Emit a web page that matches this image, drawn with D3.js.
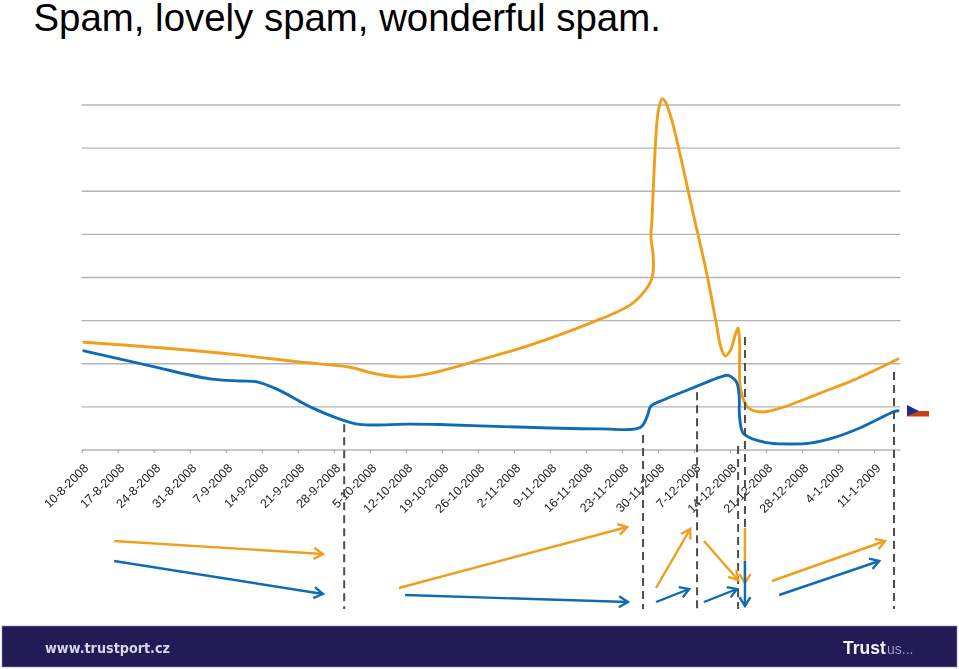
<!DOCTYPE html>
<html><head><meta charset="utf-8">
<script src="https://cdn.jsdelivr.net/npm/d3@7/dist/d3.min.js"></script>
<style>html,body{margin:0;padding:0;background:#fff}svg{display:block}</style>
</head><body><div id="chart"></div>
<script>
// Weeks since 10-8-2008 on x; unlabelled value units on y
const tickLabels = ["10-8-2008","17-8-2008","24-8-2008","31-8-2008","7-9-2008","14-9-2008","21-9-2008","28-9-2008","5-10-2008","12-10-2008","19-10-2008","26-10-2008","2-11-2008","9-11-2008","16-11-2008","23-11-2008","30-11-2008","7-12-2008","14-12-2008","21-12-2008","28-12-2008","4-1-2009","11-1-2009"];
const gridValues = [0,1,2,3,4,5,6,7,8];
const orangeWeeks = [0.06,1.90,3.84,4.40,6.06,7.45,8.09,8.84,9.59,11.06,12.45,14.12,15.23,15.64,15.81,15.87,15.87,15.81,15.84,15.93,16.01,16.12,16.20,16.37,16.57,17.01,17.37,17.62,17.76,17.87,18.01,18.15,18.23,18.27,18.29,18.42,18.56,18.90,19.40,20.51,21.43,22.67];
const orangeValues = [2.50,2.39,2.25,2.20,2.04,1.92,1.78,1.69,1.76,2.09,2.43,2.94,3.36,3.69,3.92,4.13,4.52,4.94,5.38,7.03,7.84,8.14,8.09,7.70,7.03,5.38,4.05,2.95,2.36,2.18,2.30,2.67,2.83,2.55,1.46,1.09,0.95,0.88,0.97,1.32,1.62,2.11];
const blueWeeks = [0.06,1.90,3.56,4.40,4.87,5.42,6.42,7.09,7.65,8.09,9.04,9.95,11.06,13.01,14.40,15.51,15.70,15.81,16.15,17.09,17.73,17.95,18.15,18.20,18.26,18.27,18.37,18.65,19.12,19.68,20.23,20.87,21.61,22.53,22.67];
const blueValues = [2.30,1.95,1.65,1.60,1.58,1.41,0.97,0.74,0.60,0.58,0.60,0.59,0.56,0.51,0.49,0.52,0.77,1.02,1.16,1.48,1.69,1.73,1.62,1.55,1.25,0.77,0.39,0.25,0.16,0.14,0.16,0.28,0.51,0.88,0.91];
// Period boundaries: week, top of the dashed line in value units
const phaseWeeks = [7.29,15.59,17.09,18.23,18.42,22.56];
const phaseTops = [0.60,0.35,1.34,0.09,2.62,1.81];
// Trend arrows: x in weeks, y in lane units (0 top of the lane band)
const orangeArrowX0 = [0.90,8.81,15.95,17.28,18.42,19.17];
const orangeArrowX1 = [6.70,15.15,16.90,18.23,18.42,22.31];
const orangeArrowY0 = [16,63,63,16,3,56];
const orangeArrowY1 = [29,2,4,55,58,16];
const blueArrowX0 = [0.90,8.98,15.95,17.28,18.42,19.37];
const blueArrowX1 = [6.70,15.17,16.87,18.20,18.42,22.15];
const blueArrowY0 = [36,70,77,77,36,70];
const blueArrowY1 = [69,77,64,64,81,36];

const W=959,H=669, ORANGE="#f09f1c", BLUE="#0f6cb4";
const x=d3.scaleLinear().domain([0,22.74]).range([81.7,900.5]);
const y=d3.scaleLinear().domain([0,8]).range([450,105]);
const lane=d3.scaleLinear().domain([0,100]).range([525,625]);
const svg=d3.select("#chart").append("svg").attr("width",W).attr("height",H).style("font-family","'Liberation Sans',Arial,sans-serif");
svg.append("defs").append("filter").attr("id","soft").append("feGaussianBlur").attr("stdDeviation",0.45);

svg.append("text").attr("x",33.5).attr("y",31).attr("font-size",38.4).attr("fill","#000").text("Spam, lovely spam, wonderful spam.");

const body=svg.append("g").attr("filter","url(#soft)");

body.append("g").selectAll("line").data(gridValues.slice(1)).join("line")
 .attr("x1",x.range()[0]).attr("x2",x.range()[1]).attr("y1",d=>y(d)).attr("y2",d=>y(d))
 .attr("stroke","#b4b4b4").attr("stroke-width",1.4);

const axis=d3.axisBottom(x).tickValues(tickLabels.map((_,i)=>i)).tickFormat(i=>tickLabels[i]).tickSize(3).tickPadding(11);
const ax=body.append("g").attr("transform",`translate(0,${y(0)})`).call(axis);
ax.select(".domain").attr("stroke","#b4b4b4").attr("stroke-width",1.4).attr("d",`M${x.range()[0]},0H${x.range()[1]}`);
ax.selectAll(".tick line").attr("stroke","#999");
ax.selectAll(".tick text").attr("font-size",12.4).attr("font-family","'Liberation Sans',Arial,sans-serif").attr("fill","#222")
 .attr("text-anchor","end").attr("dy",0).attr("transform","translate(-3,9) rotate(-45)");

const zip=(a,b)=>a.map((v,i)=>[v,b[i]]);
const line=d3.line().x(d=>x(d[0])).y(d=>y(d[1])).curve(d3.curveCatmullRom.alpha(0.5));
body.append("path").attr("d",line(zip(orangeWeeks,orangeValues))).attr("fill","none").attr("stroke",ORANGE).attr("stroke-width",2.9).attr("stroke-linecap","round");
body.append("path").attr("d",line(zip(blueWeeks,blueValues))).attr("fill","none").attr("stroke",BLUE).attr("stroke-width",2.9).attr("stroke-linecap","round");

body.append("g").selectAll("line").data(phaseWeeks).join("line")
 .attr("x1",d=>x(d)).attr("x2",d=>x(d)).attr("y1",(d,i)=>y(phaseTops[i])).attr("y2",lane(84))
 .attr("stroke","#4d4d4d").attr("stroke-width",2).attr("stroke-dasharray","8 5");

function arrows(x0,x1,y0,y1,color){
 const g=body.append("g").attr("fill","none").attr("stroke",color).attr("stroke-width",2.4);
 x0.forEach((v,i)=>{
  const ax=x(v),ay=lane(y0[i]),bx=x(x1[i]),by=lane(y1[i]);
  const t=Math.atan2(by-ay,bx-ax),h=10.5,s=0.55;
  g.append("line").attr("x1",ax).attr("y1",ay).attr("x2",bx).attr("y2",by);
  g.append("path").attr("d",d3.line()([[bx-h*Math.cos(t-s),by-h*Math.sin(t-s)],[bx,by],[bx-h*Math.cos(t+s),by-h*Math.sin(t+s)]]));
 });
}
arrows(orangeArrowX0,orangeArrowX1,orangeArrowY0,orangeArrowY1,ORANGE);
arrows(blueArrowX0,blueArrowX1,blueArrowY0,blueArrowY1,BLUE);

// Flag marker
const flag=body.append("g");
flag.append("rect").attr("x",907).attr("y",411).attr("width",22).attr("height",5.5).attr("fill","#c63f17");
flag.append("path").attr("d","M907,405L919,411L907,416Z").attr("fill","#1d2f8c");

// Footer banner
body.append("rect").attr("x",2).attr("y",626).attr("width",955).attr("height",41).attr("fill","#211b57").attr("stroke","#8d8db5").attr("stroke-width",0.6);
body.append("text").attr("x",45).attr("y",653).attr("font-size",14.8).attr("font-weight","bold").attr("font-family","'DejaVu Sans',sans-serif").attr("textLength",125).attr("lengthAdjust","spacingAndGlyphs").attr("fill","#d6d6e6").text("www.trustport.cz");
body.append("text").attr("x",843).attr("y",654).attr("font-size",17.5).attr("font-weight","bold").attr("fill","#f2f2f6").text("Trust");
body.append("text").attr("x",887).attr("y",654).attr("font-size",14).attr("fill","#9d9dbd").text("us...");
</script></body></html>
